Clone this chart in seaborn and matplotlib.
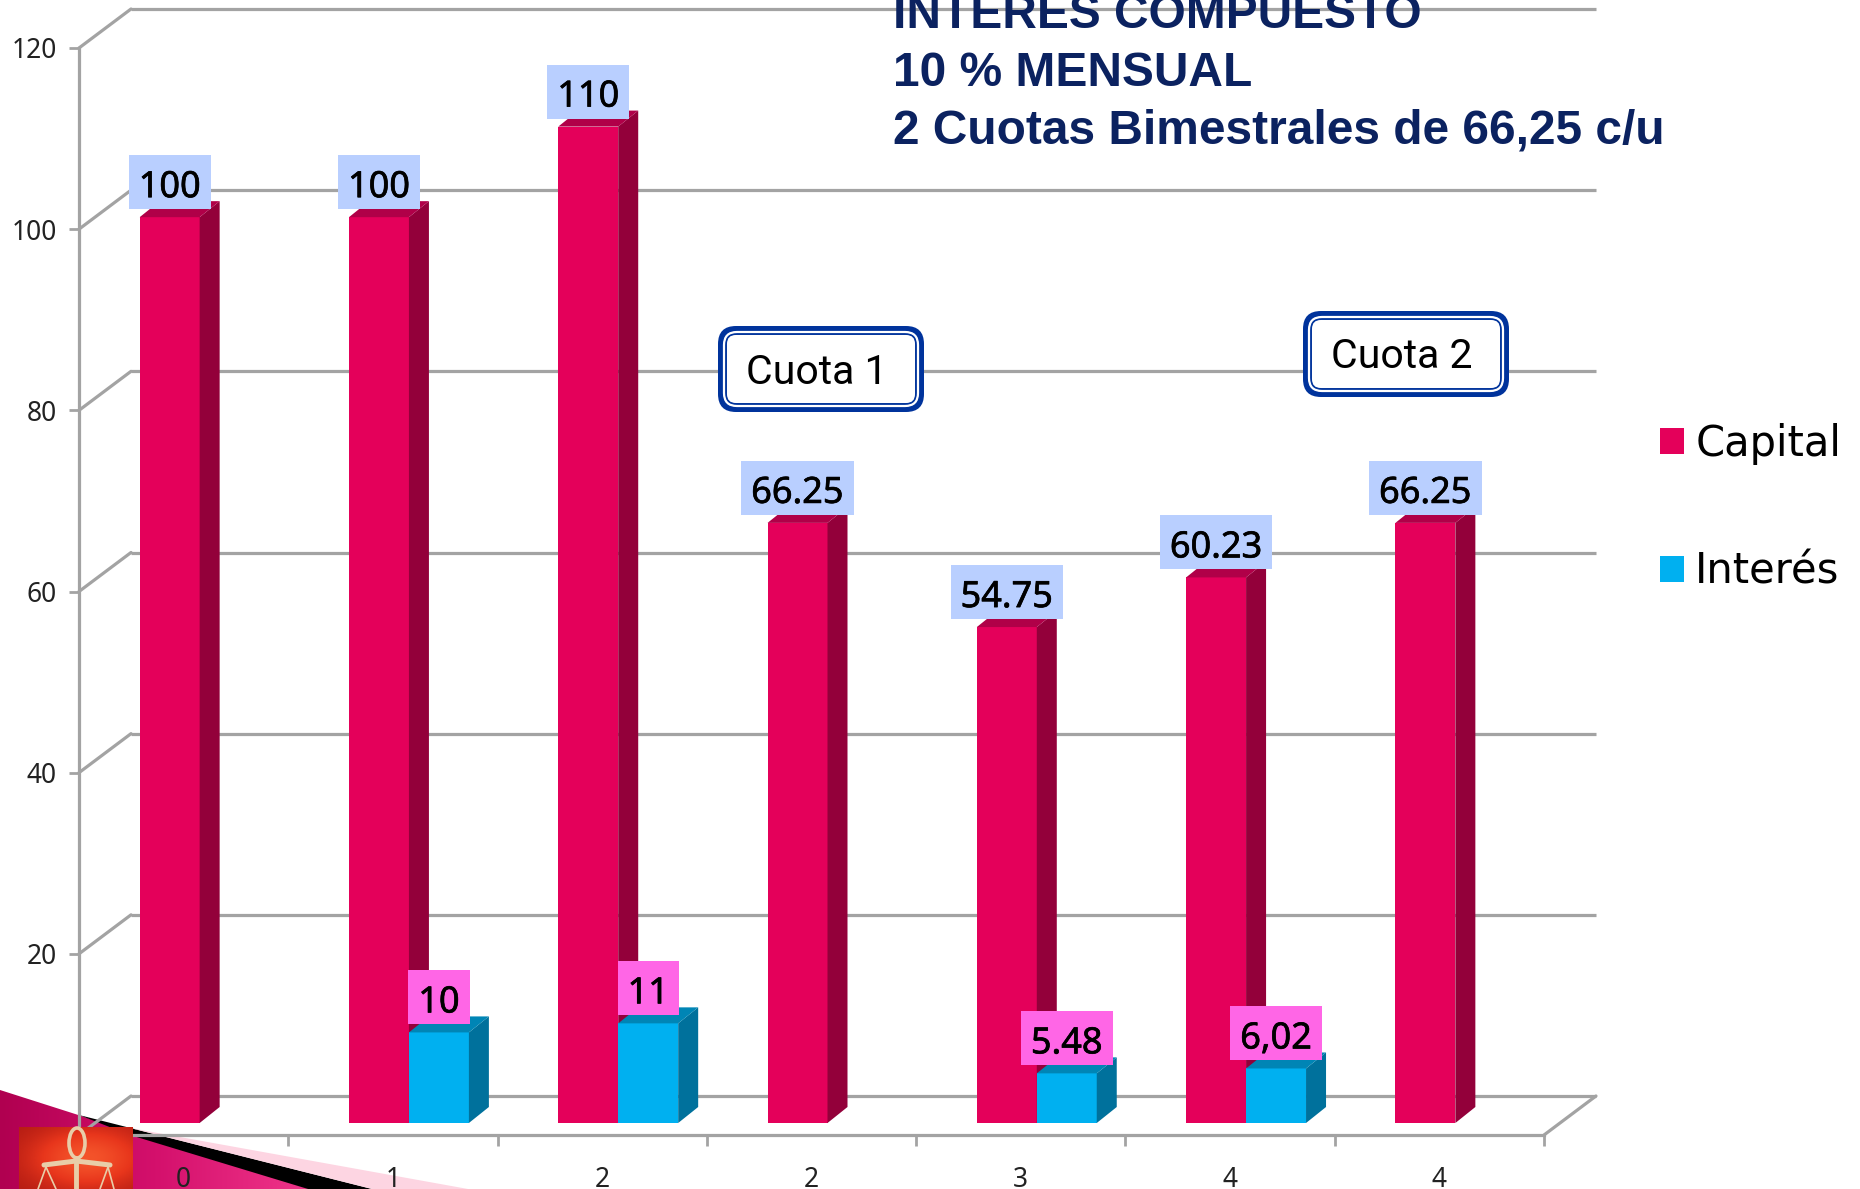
import numpy as np
import pandas as pd
import matplotlib
matplotlib.use("Agg")
import matplotlib.pyplot as plt
import matplotlib.patheffects as pe
import seaborn as sns
from matplotlib.patches import Polygon, FancyBboxPatch, Ellipse, Rectangle
from matplotlib.transforms import offset_copy, IdentityTransform

# --- Data ---
PERIODS = [0, 1, 2, 3, 4, 5, 6]
TICK_LABELS = ["0", "1", "2", "2", "3", "4", "4"]
CAPITAL = [100, 100, 110, 66.25, 54.75, 60.23, 66.25]
CAPITAL_LABELS = ["100", "100", "110", "66.25", "54.75", "60.23", "66.25"]
INTERES_PERIODS = [1, 2, 4, 5]
INTERES = [10, 11, 5.48, 6.02]
INTERES_LABELS = ["10", "11", "5.48", "6,02"]
Y_TICKS = [20, 40, 60, 80, 100, 120]
TITLE_LINES = ["INTERES COMPUESTO", "10 % MENSUAL", "2 Cuotas Bimestrales de 66,25 c/u"]

# --- Look ---
W, H = 1860, 1189
GRAY = "#A3A3A3"
CAP_COLORS = ("#E4005A", "#93003A", "#B00048")   # front, side, top
INT_COLORS = ("#00B0F0", "#00719C", "#0085B5")
NAVY = "#00339C"
BAR_DX, BAR_DY = 20, 16      # depth of a bar
WALL_DX, WALL_DY = 52, 39    # depth of the floor

sns.set_theme(style="white")
plt.rcParams["font.family"] = ["Noto Sans", "DejaVu Sans"]

fig = plt.figure(figsize=(W / 100, H / 100), dpi=100, facecolor="white")

# overlays in pixel coordinates, one under and one over the chart
def pixel_axes(z):
    a = fig.add_axes([0, 0, 1, 1], zorder=z)
    a.set_xlim(0, W)
    a.set_ylim(H, 0)
    a.axis("off")
    return a

back = pixel_axes(0)
front = pixel_axes(2)

ax = fig.add_axes([79 / W, (H - 1135) / H, 1465 / W, 1087 / H], zorder=1)
ax.patch.set_visible(False)

df = pd.concat([
    pd.DataFrame({"periodo": PERIODS, "valor": CAPITAL, "serie": "Capital"}),
    pd.DataFrame({"periodo": INTERES_PERIODS, "valor": INTERES, "serie": "Interés"}),
])
sns.barplot(data=df, x="periodo", y="valor", hue="serie", order=PERIODS,
            hue_order=["Capital", "Interés"], palette=[CAP_COLORS[0], INT_COLORS[0]],
            width=0.573, gap=0, saturation=1, linewidth=0, ax=ax)
ax.set_xlim(-0.5, 6.5)
ax.set_ylim(0, 120)
ax.set_xlabel("")
ax.set_ylabel("")

# axes
sns.despine(ax=ax)
for s in ["left", "bottom"]:
    ax.spines[s].set_color(GRAY)
    ax.spines[s].set_linewidth(2.3)
ax.set_yticks(Y_TICKS)
ax.set_xticks(PERIODS, TICK_LABELS)
ax.set_xticks(np.arange(-0.5, 7), minor=True)
ax.tick_params(axis="y", left=True, length=7, width=2, color=GRAY, labelsize=19,
               pad=9, labelcolor="#222222")
ax.tick_params(axis="x", which="major", bottom=False, labelsize=19, pad=16, labelcolor="#222222")
ax.tick_params(axis="x", which="minor", bottom=True, length=8, width=2, color=GRAY)

# back wall grid, side wall and floor
wall = offset_copy(ax.transData, fig=fig, x=WALL_DX, y=WALL_DY, units="dots")
ax.hlines([0] + Y_TICKS, -0.5, 6.5, color=GRAY, lw=2.3, transform=wall, zorder=1, clip_on=False)

def to_px(x, y):
    return ax.transData.transform((x, y))

for v in [0] + Y_TICKS:
    x0, y0 = to_px(-0.5, v)
    ax.plot([x0, x0 + WALL_DX], [y0, y0 + WALL_DY], color=GRAY, lw=2.3,
            transform=IdentityTransform(), clip_on=False, zorder=1)
x0, y0 = to_px(6.5, 0)
ax.plot([x0, x0 + WALL_DX], [y0, y0 + WALL_DY], color=GRAY, lw=2.3,
        transform=IdentityTransform(), clip_on=False, zorder=1)

# turn the flat bars into boxes
bar_shift = offset_copy(ax.transData, fig=fig, x=16, y=12, units="dots")
renderer = fig.canvas.get_renderer()

def make_3d(container, colors, z, labels, label_color):
    for patch, text in zip(container.patches, labels):
        patch.set_transform(bar_shift)
        patch.set_clip_on(False)
        patch.set_zorder(z)
        x0, y0 = bar_shift.transform((patch.get_x(), 0))
        x1, y1 = bar_shift.transform((patch.get_x() + patch.get_width(), patch.get_height()))
        side = [(x1, y0), (x1 + BAR_DX, y0 + BAR_DY), (x1 + BAR_DX, y1 + BAR_DY), (x1, y1)]
        top = [(x0, y1), (x1, y1), (x1 + BAR_DX, y1 + BAR_DY), (x0 + BAR_DX, y1 + BAR_DY)]
        for pts, col in [(side, colors[1]), (top, colors[2])]:
            ax.add_patch(Polygon(pts, closed=True, fc=col, ec="none", zorder=z,
                                 transform=IdentityTransform(), clip_on=False))
        # label box has a fixed height, its width follows the text
        xc = (x0 + x1) / 2
        t = ax.annotate(text, xy=(xc, y1 + 20), xycoords=IdentityTransform(),
                        ha="center", va="baseline", fontsize=26, color="black", zorder=7,
                        path_effects=[pe.withStroke(linewidth=0.5, foreground="black")])
        bw = t.get_window_extent(renderer).width + 20
        ax.add_patch(Rectangle((xc - bw / 2, y1 + 8), bw, 54, fc=label_color, ec="none", zorder=6,
                               transform=IdentityTransform(), clip_on=False))

make_3d(ax.containers[0], CAP_COLORS, 3, CAPITAL_LABELS, "#B9CFFF")
make_3d(ax.containers[1], INT_COLORS, 4, INTERES_LABELS, "#FF66E6")

# legend
handles, labels = ax.get_legend_handles_labels()
ax.legend(handles, labels, loc="upper left", bbox_to_anchor=(1660 / W, 1 - 423 / H),
          bbox_transform=fig.transFigure, frameon=False, labelspacing=2.06, labelcolor="black",
          prop={"family": "DejaVu Sans", "size": 30},
          handlelength=0.575, handleheight=0.575, handletextpad=0.27, borderpad=0, borderaxespad=0)

# title
for text, y in zip(TITLE_LINES, [15, 73, 131]):
    front.text(893, y, text, fontsize=34.5, fontweight="bold", color="#0B2260",
               family="Liberation Sans", va="center", ha="left", clip_on=False)

# callouts
def callout(cx, cy, w, h, text, tx, ty):
    for inset, fc, ec, lw in [(0, NAVY, "none", 0), (8, "white", NAVY, 1.4)]:
        front.add_patch(FancyBboxPatch((cx - w / 2 + inset, cy - h / 2 + inset), w - 2 * inset, h - 2 * inset,
                                       boxstyle=f"round,pad=0,rounding_size={18 - inset}",
                                       fc=fc, ec=ec, lw=lw))
    front.add_patch(FancyBboxPatch((cx - w / 2 + 6, cy - h / 2 + 6), w - 12, h - 12,
                                   boxstyle="round,pad=0,rounding_size=13", fc="none", ec="white", lw=1.6))
    front.text(tx, ty, text, fontsize=29.5, color="black", ha="center", va="center", family="Roboto")

callout(821, 369, 206, 86, "Cuota 1", 817, 372)
callout(1406, 354, 206, 86, "Cuota 2", 1402, 357)

# slide decoration, bottom left corner
grad = np.linspace(0, 1, 256).reshape(1, -1)
cmap = matplotlib.colors.LinearSegmentedColormap.from_list("slide", ["#B00050", "#D4106C", "#F0358A"])
img = back.imshow(grad, extent=(0, 310, H, 1090), cmap=cmap, aspect="auto", zorder=5)
tri = Polygon([(0, 1090), (310, 1189), (0, 1189)], closed=True, transform=back.transData, fc="none", ec="none")
back.add_patch(tri)
img.set_clip_path(tri)
back.set_xlim(0, W)
back.set_ylim(H, 0)
back.add_patch(Polygon([(79, 1115), (372, 1189), (308, 1189), (130, 1135)], closed=True, fc="black", ec="none", zorder=6))
back.add_patch(Polygon([(130, 1128), (468, 1189), (372, 1189)], closed=True, fc="#FDD5E2", ec="none", zorder=6))

# the scales picture
px, py = np.meshgrid(np.linspace(-1, 1, 64), np.linspace(-1, 1, 64))
pic = np.exp(-((px - 0.2) ** 2 + py ** 2))
pic_cmap = matplotlib.colors.LinearSegmentedColormap.from_list("pic", ["#B81E14", "#E8361C", "#F4532A"])
front.imshow(pic, extent=(19, 132, H, 1127), cmap=pic_cmap, aspect="auto", zorder=3)
front.set_xlim(0, W)
front.set_ylim(H, 0)
SCALE = "#E8CDA8"
front.add_patch(Ellipse((77, 1143), 16, 30, fc="none", ec=SCALE, lw=2.6, zorder=4))
front.plot([76, 76], [1158, 1189], color=SCALE, lw=3.5, zorder=4)
front.plot([44, 76, 110], [1165, 1161, 1165], color=SCALE, lw=3.6, zorder=4)
front.plot([46, 38], [1167, 1189], color=SCALE, lw=1.2, zorder=4)
front.plot([46, 56], [1167, 1189], color=SCALE, lw=1.2, zorder=4)
front.plot([108, 100], [1167, 1189], color=SCALE, lw=1.2, zorder=4)
front.plot([108, 114], [1167, 1189], color=SCALE, lw=1.2, zorder=4)

fig.savefig("out.png", dpi=100)
